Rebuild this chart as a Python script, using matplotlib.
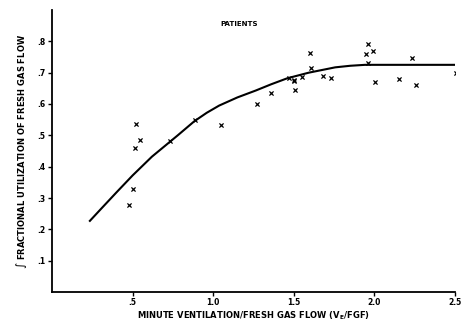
import matplotlib.pyplot as plt

# measured points (patients)
pts_x = [0.475, 0.502, 0.517, 0.52, 0.547, 0.735, 0.885, 1.047, 1.274, 1.356,
         1.469, 1.50, 1.50, 1.51, 1.551, 1.603, 1.607, 1.681, 1.73,
         1.95, 1.959, 1.959, 1.994, 2.004, 2.154, 2.235, 2.255, 2.505]
pts_y = [0.279, 0.329, 0.459, 0.536, 0.486, 0.483, 0.55, 0.533, 0.599, 0.635,
         0.684, 0.672, 0.675, 0.646, 0.686, 0.763, 0.716, 0.690, 0.683,
         0.761, 0.792, 0.732, 0.768, 0.671, 0.679, 0.747, 0.661, 0.698]

# fitted curve
curve_x = [0.235, 0.30, 0.40, 0.50, 0.62, 0.78, 0.883, 0.96, 1.037, 1.15,
           1.264, 1.36, 1.459, 1.593, 1.757, 1.85, 1.942, 2.50]
curve_y = [0.227, 0.263, 0.318, 0.372, 0.432, 0.500, 0.545, 0.572, 0.595, 0.621,
           0.643, 0.663, 0.682, 0.700, 0.717, 0.722, 0.725, 0.725]

x_ticks = [0.5, 1.0, 1.5, 2.0, 2.5]
x_labels = ['.5', '1.0', '1.5', '2.0', '2.5']
y_ticks = [0.1, 0.2, 0.3, 0.4, 0.5, 0.6, 0.7, 0.8]
y_labels = ['.1', '.2', '.3', '.4', '.5', '.6', '.7', '.8']

plt.rcParams['font.family'] = 'DejaVu Sans'
plt.rcParams['font.weight'] = 'bold'

fig = plt.figure(figsize=(4.62, 3.23), dpi=100)
ax = fig.add_axes([52 / 462, 1 - 292 / 323, 403 / 462, 282 / 323])

ax.plot(curve_x, curve_y, color='black', lw=1.5, solid_joinstyle='round')
ax.scatter(pts_x, pts_y, marker='x', s=9, color='black', linewidths=0.9, zorder=3)

ax.set_xlim(0, 2.5)
ax.set_ylim(0, 0.9)
ax.set_xticks(x_ticks)
ax.set_xticklabels(x_labels, fontsize=5.5, fontweight='bold')
ax.set_yticks(y_ticks)
ax.set_yticklabels(y_labels, fontsize=5.5, fontweight='bold')
ax.tick_params(direction='out', length=3, width=1, pad=1.5)

for s in ['top', 'right']:
    ax.spines[s].set_visible(False)
for s in ['left', 'bottom']:
    ax.spines[s].set_linewidth(1.3)

ax.set_xlabel(r'MINUTE VENTILATION/FRESH GAS FLOW (V$_{\mathbf{E}}$/FGF)',
              fontsize=6, fontweight='bold', labelpad=1.5)
ax.set_ylabel(r'$\int$ FRACTIONAL UTILIZATION OF FRESH GAS FLOW',
              fontsize=6, fontweight='bold', labelpad=6)
ax.text(1.16, 0.855, 'PATIENTS', fontsize=5, fontweight='bold', ha='center', va='center')

fig.savefig('out.png', dpi=100)
